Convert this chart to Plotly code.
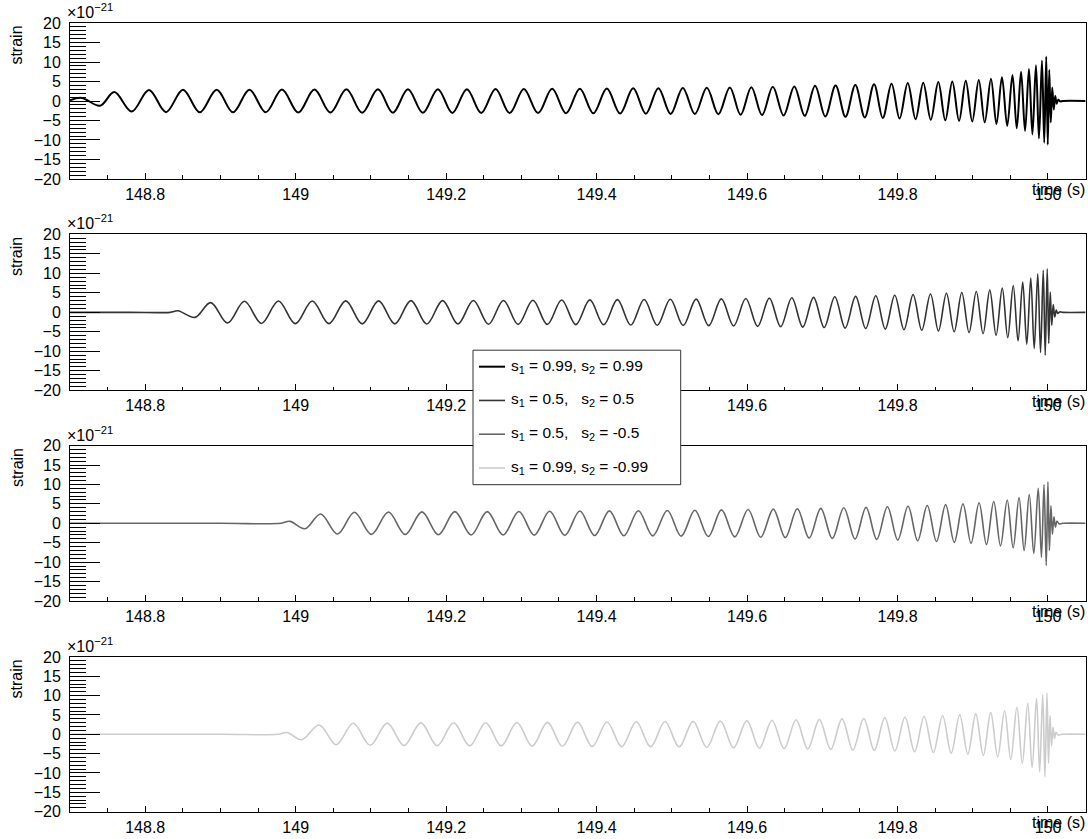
import plotly.graph_objects as go

# ---------------- data (strain in units of 1e-21, time in s) ----------------
time_p1 = [148.7000, 148.7156, 148.7399, 148.7589, 148.7820, 148.8050, 148.8276, 148.8502, 148.8725, 148.8950,
           148.9167, 148.9385, 148.9602, 148.9817, 149.0034, 149.0249, 149.0462, 149.0674, 149.0884, 149.1093,
           149.1292, 149.1492, 149.1691, 149.1890, 149.2083, 149.2276, 149.2466, 149.2657, 149.2844, 149.3033,
           149.3222, 149.3409, 149.3594, 149.3777, 149.3957, 149.4136, 149.4312, 149.4486, 149.4654, 149.4821,
           149.4984, 149.5146, 149.5306, 149.5465, 149.5618, 149.5771, 149.5914, 149.6057, 149.6199, 149.6342,
           149.6486, 149.6628, 149.6767, 149.6904, 149.7040, 149.7177, 149.7308, 149.7439, 149.7565, 149.7688,
           149.7804, 149.7920, 149.8027, 149.8136, 149.8240, 149.8342, 149.8442, 149.8542, 149.8635, 149.8728,
           149.8818, 149.8907, 149.8993, 149.9080, 149.9159, 149.9242, 149.9315, 149.9388, 149.9458, 149.9528,
           149.9585, 149.9642, 149.9695, 149.9747, 149.9793, 149.9840, 149.9880, 149.9920, 149.9950, 149.9977,
           149.9997, 150.0017, 150.0037, 150.0057, 150.0077, 150.0096, 150.0116, 150.0136, 150.0163, 150.0196,
           150.0500]
strain_p1 = [0.2, 0.8, -1.2, 2.3, -2.7, 2.85, -2.85, 2.9, -2.9, 2.9,
             -2.9, 2.9, -2.9, 2.95, -2.95, 2.95, -2.95, 3.0, -3.0, 3.0,
             -3.0, 3.0, -3.0, 3.05, -3.05, 3.05, -3.05, 3.1, -3.1, 3.1,
             -3.1, 3.15, -3.15, 3.15, -3.15, 3.2, -3.2, 3.25, -3.25, 3.3,
             -3.3, 3.35, -3.35, 3.4, -3.4, 3.5, -3.5, 3.55, -3.6, 3.65,
             -3.7, 3.75, -3.8, 3.9, -3.95, 4.0, -4.05, 4.1, -4.2, 4.3,
             -4.35, 4.45, -4.5, 4.6, -4.65, 4.7, -4.8, 4.85, -4.95, 5.0,
             -5.1, 5.2, -5.25, 5.4, -5.5, 5.7, -5.9, 6.1, -6.4, 6.7,
             -7.0, 7.5, -7.7, 8.2, -8.6, 9.2, -9.6, 10.4, -10.7, 11.4,
             -11.2, 8.0, -5.5, 3.5, -2.2, 1.3, -0.7, 0.35, -0.1, 0.0,
             0.0]

time_p2 = [148.7000, 148.7800, 148.8329, 148.8435, 148.8661, 148.8870, 148.9094, 148.9319, 148.9545, 148.9771, 148.9995,
           149.0220, 149.0442, 149.0665, 149.0884, 149.1102, 149.1318, 149.1532, 149.1743, 149.1953, 149.2157,
           149.2362, 149.2563, 149.2762, 149.2957, 149.3153, 149.3344, 149.3536, 149.3723, 149.3910, 149.4094,
           149.4276, 149.4454, 149.4632, 149.4806, 149.4980, 149.5151, 149.5323, 149.5490, 149.5658, 149.5821,
           149.5983, 149.6140, 149.6296, 149.6446, 149.6595, 149.6740, 149.6884, 149.7025, 149.7166, 149.7304,
           149.7443, 149.7577, 149.7711, 149.7837, 149.7963, 149.8086, 149.8207, 149.8322, 149.8438, 149.8544,
           149.8650, 149.8753, 149.8854, 149.8951, 149.9047, 149.9137, 149.9226, 149.9310, 149.9392, 149.9465,
           149.9538, 149.9602, 149.9664, 149.9718, 149.9771, 149.9817, 149.9864, 149.9901, 149.9937, 149.9963,
           149.9990, 150.0010, 150.0030, 150.0050, 150.0070, 150.0090, 150.0110, 150.0130, 150.0156, 150.0196,
           150.0500]
strain_p2 = [0.0, 0.0, 0.0, 0.4, -1.3, 2.5, -2.75, 2.85, -2.85, 2.9, -2.9,
             2.9, -2.9, 2.95, -2.95, 2.95, -2.95, 3.0, -3.0, 3.0, -3.0,
             3.05, -3.05, 3.05, -3.1, 3.1, -3.1, 3.15, -3.15, 3.2, -3.2,
             3.25, -3.25, 3.3, -3.3, 3.35, -3.35, 3.4, -3.4, 3.45, -3.5,
             3.55, -3.6, 3.65, -3.7, 3.75, -3.8, 3.85, -3.9, 4.0, -4.05,
             4.1, -4.15, 4.25, -4.3, 4.4, -4.45, 4.55, -4.6, 4.7, -4.8,
             4.9, -5.0, 5.1, -5.2, 5.35, -5.5, 5.7, -5.9, 6.2, -6.5,
             6.9, -7.3, 7.8, -8.2, 8.8, -9.3, 9.9, -10.3, 10.8, -11.0,
             11.2, -8.0, 5.2, -3.3, 2.0, -1.2, 0.6, -0.3, 0.1, 0.0,
             0.0]

time_p3 = [148.7000, 148.9000, 148.9804, 148.9924, 149.0123, 149.0332, 149.0556, 149.0781, 149.1007, 149.1233, 149.1456,
           149.1678, 149.1897, 149.2116, 149.2332, 149.2546, 149.2757, 149.2967, 149.3171, 149.3376, 149.3577,
           149.3777, 149.3974, 149.4170, 149.4362, 149.4555, 149.4747, 149.4940, 149.5124, 149.5306, 149.5484,
           149.5660, 149.5837, 149.6014, 149.6181, 149.6349, 149.6508, 149.6668, 149.6825, 149.6980, 149.7133,
           149.7286, 149.7435, 149.7582, 149.7724, 149.7866, 149.8003, 149.8140, 149.8268, 149.8395, 149.8518,
           149.8639, 149.8754, 149.8870, 149.8977, 149.9084, 149.9182, 149.9279, 149.9369, 149.9458, 149.9537,
           149.9615, 149.9683, 149.9751, 149.9811, 149.9870, 149.9913, 149.9947, 149.9977, 149.9999, 150.0019,
           150.0039, 150.0059, 150.0079, 150.0099, 150.0119, 150.0149, 150.0196, 150.0500]
strain_p3 = [0.0, 0.0, 0.0, 0.5, -1.4, 2.4, -2.75, 2.85, -2.85, 2.9, -2.9,
             2.95, -2.95, 3.0, -3.0, 3.0, -3.0, 3.05, -3.05, 3.1, -3.1,
             3.15, -3.15, 3.2, -3.2, 3.25, -3.25, 3.3, -3.3, 3.35, -3.4,
             3.45, -3.5, 3.55, -3.6, 3.65, -3.7, 3.75, -3.8, 3.85, -3.9,
             4.0, -4.05, 4.1, -4.15, 4.25, -4.3, 4.4, -4.5, 4.6, -4.7,
             4.8, -4.9, 5.0, -5.15, 5.3, -5.45, 5.6, -5.8, 6.0, -6.3,
             6.6, -7.0, 7.4, -7.8, 9.0, -8.8, 10.0, -10.9, 10.7, -7.0,
             4.5, -2.8, 1.7, -1.0, 0.5, -0.15, 0.0, 0.0]

time_p4 = [148.7000, 148.9000, 148.9764, 148.9884, 149.0079, 149.0313, 149.0539, 149.0765, 149.0991, 149.1217, 149.1441,
           149.1664, 149.1882, 149.2100, 149.2313, 149.2526, 149.2733, 149.2940, 149.3144, 149.3347, 149.3546,
           149.3746, 149.3942, 149.4139, 149.4333, 149.4527, 149.4718, 149.4910, 149.5097, 149.5283, 149.5465,
           149.5646, 149.5821, 149.5997, 149.6164, 149.6332, 149.6492, 149.6652, 149.6807, 149.6961, 149.7112,
           149.7262, 149.7407, 149.7551, 149.7691, 149.7831, 149.7965, 149.8099, 149.8227, 149.8354, 149.8476,
           149.8599, 149.8713, 149.8827, 149.8934, 149.9040, 149.9140, 149.9239, 149.9331, 149.9423, 149.9505,
           149.9587, 149.9659, 149.9731, 149.9789, 149.9848, 149.9889, 149.9930, 149.9959, 149.9987, 150.0007,
           150.0027, 150.0047, 150.0067, 150.0087, 150.0106, 150.0136, 150.0183, 150.0500]
strain_p4 = [0.0, 0.0, 0.0, 0.45, -1.4, 2.4, -2.7, 2.85, -2.85, 2.9, -2.9,
             2.95, -2.95, 3.0, -3.0, 3.0, -3.0, 3.05, -3.05, 3.1, -3.1,
             3.15, -3.15, 3.2, -3.2, 3.25, -3.25, 3.3, -3.3, 3.35, -3.4,
             3.45, -3.5, 3.55, -3.6, 3.65, -3.7, 3.75, -3.8, 3.85, -3.9,
             4.0, -4.05, 4.1, -4.15, 4.25, -4.3, 4.4, -4.5, 4.6, -4.7,
             4.8, -4.9, 5.0, -5.15, 5.3, -5.45, 5.6, -5.85, 6.1, -6.5,
             7.0, -7.5, 8.0, -8.6, 9.3, -9.7, 10.2, -11.0, 10.7, -7.5,
             4.8, -3.0, 1.8, -1.1, 0.55, -0.15, 0.0, 0.0]

legend_labels = [
    "s<sub>1</sub> = 0.99, s<sub>2</sub> = 0.99",
    "s<sub>1</sub> = 0.5,\u00a0\u00a0 s<sub>2</sub> = 0.5",
    "s<sub>1</sub> = 0.5,\u00a0\u00a0 s<sub>2</sub> = -0.5",
    "s<sub>1</sub> = 0.99, s<sub>2</sub> = -0.99",
]
x_tick_vals = [148.8, 149.0, 149.2, 149.4, 149.6, 149.8, 150.0]
x_tick_text = ["148.8", "149", "149.2", "149.4", "149.6", "149.8", "150"]
x_range = [148.7, 150.05]
y_range = [-20, 20]

# ---------------- styling / layout ----------------
W, H = 1088, 839
FONT = "Liberation Sans, Arial, Helvetica, sans-serif"
colors = ["#000000", "#333333", "#666666", "#cccccc"]
widths = [2.0, 1.6, 1.6, 1.6]
panels_px = [(25.3, 181.3), (236.8, 392.8), (448.2, 603.7), (659.8, 814.5)]
xl_px, xr_px = 70.0, 1085.6
# the captured picture is slightly squeezed vertically; compensate
S_Y, O_Y = 0.9806, 10.4


def px_x(p):
    return p / W


def px_y(p):
    return 1 - (p / S_Y - O_Y) / H


times = [time_p1, time_p2, time_p3, time_p4]
strains = [strain_p1, strain_p2, strain_p3, strain_p4]

fig = go.Figure()
layout = dict(
    width=W, height=H,
    margin=dict(l=0, r=0, t=0, b=0),
    paper_bgcolor="white", plot_bgcolor="white",
    showlegend=False,
    font=dict(family=FONT, size=15, color="black"),
)
annotations = []
shapes = []

for i in range(4):
    sfx = "" if i == 0 else str(i + 1)
    fig.add_trace(go.Scatter(
        x=times[i], y=strains[i], mode="lines",
        line=dict(color=colors[i], width=widths[i], shape="spline", smoothing=1.0),
        xaxis="x" + sfx, yaxis="y" + sfx, hoverinfo="skip",
    ))
    top, bot = panels_px[i]
    layout["xaxis" + sfx] = dict(
        domain=[px_x(xl_px), px_x(xr_px)], anchor="y" + sfx, range=x_range,
        tickmode="array", tickvals=x_tick_vals, ticktext=x_tick_text,
        ticks="inside", ticklen=6, tickwidth=1, tickcolor="black",
        minor=dict(dtick=0.05, tick0=148.7, ticks="inside", ticklen=3.5, tickwidth=1, tickcolor="black"),
        showline=True, linecolor="black", linewidth=1, mirror=True,
        showgrid=False, zeroline=False,
        tickfont=dict(family=FONT, size=16, color="black"),
        ticklabelstandoff=1,
    )
    layout["yaxis" + sfx] = dict(
        domain=[px_y(bot), px_y(top)], anchor="x" + sfx, range=y_range,
        tickmode="linear", tick0=0, dtick=5,
        ticks="inside", ticklen=30, tickwidth=1, tickcolor="black",
        minor=dict(dtick=1, tick0=0, ticks="inside", ticklen=16, tickwidth=1, tickcolor="black"),
        showline=True, linecolor="black", linewidth=1, mirror=True,
        showgrid=False, zeroline=False,
        tickfont=dict(family=FONT, size=16, color="black"),
        ticklabelstandoff=5,
    )
    annotations.append(dict(
        text="strain", textangle=-90, xref="paper", yref="paper",
        x=px_x(17), y=px_y(top + 1), xanchor="center", yanchor="top",
        showarrow=False, font=dict(family=FONT, size=16, color="black"),
    ))
    annotations.append(dict(
        text="\u00d710<sup>\u221221</sup>", xref="paper", yref="paper",
        x=px_x(66), y=px_y(top - 1), xanchor="left", yanchor="bottom",
        showarrow=False, borderpad=0, font=dict(family=FONT, size=16, color="black"),
    ))
    annotations.append(dict(
        text="time (s)", xref="paper", yref="paper",
        x=px_x(1086), y=px_y(bot + 11), xanchor="right", yanchor="middle",
        showarrow=False, borderpad=0, font=dict(family=FONT, size=16, color="black"),
    ))

# legend box (drawn by hand, ROOT TLegend style)
lx0, ly0, lx1, ly1 = 473.0, 352.7, 680.7, 487.3
shapes.append(dict(type="rect", xref="paper", yref="paper", layer="above",
                   x0=px_x(lx0), x1=px_x(lx1), y0=px_y(ly1), y1=px_y(ly0),
                   fillcolor="white", line=dict(color="#333333", width=1)))
row_y = [366.7, 400.5, 434.3, 468.1]
for i, lab in enumerate(legend_labels):
    shapes.append(dict(type="line", xref="paper", yref="paper", layer="above",
                       x0=px_x(479), x1=px_x(505), y0=px_y(row_y[i] + 2.5), y1=px_y(row_y[i] + 2.5),
                       line=dict(color=colors[i], width=widths[i])))
    annotations.append(dict(
        text=lab, xref="paper", yref="paper", x=px_x(510), y=px_y(row_y[i] + 2),
        xanchor="left", yanchor="middle", showarrow=False, borderpad=0,
        font=dict(family=FONT, size=15.5, color="black"),
    ))

layout["annotations"] = annotations
layout["shapes"] = shapes
fig.update_layout(**layout)
fig.write_html(
    "out.html",
    config={"displayModeBar": False},
    post_script=(
        "document.documentElement.style.margin='0px';"
        "document.documentElement.style.overflow='hidden';"
        "document.body.style.margin='0px';document.body.style.padding='0px';"
        "document.body.style.overflow='hidden';"
        "var gd=document.querySelector('.plotly-graph-div');"
        "gd.style.position='fixed';gd.style.left='0px';gd.style.top='0px';"
    ),
)
